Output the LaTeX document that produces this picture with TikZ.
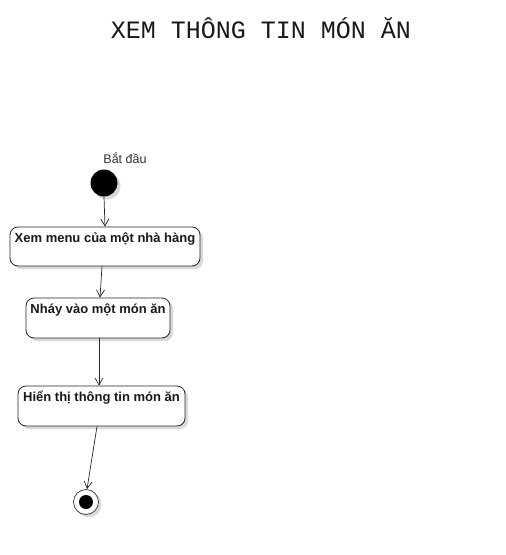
\documentclass[tikz,border=0pt]{standalone}
\usepackage{fontspec}
\setmainfont{Liberation Sans}
\newfontfamily\titlefont{Liberation Mono}
\usetikzlibrary{arrows.meta,shadows}
\begin{document}
\begin{tikzpicture}[x=1pt,y=-1pt,
  actbox/.style={draw=black!85, line width=0.8pt, rounded corners=8pt, fill=white,
    drop shadow={shadow xshift=3pt, shadow yshift=-3pt, fill=black!15, opacity=1}},
  acttext/.style={font=\fontsize{13}{15}\selectfont\bfseries, text=black!90, inner sep=0pt, anchor=north},
  flow/.style={draw=black!85, line width=0.7pt, -{Straight Barb[length=7pt,width=8pt]}}]
\useasboundingbox (0,0) rectangle (506,555);
\node[font=\titlefont\fontsize{25}{29}\selectfont, text=black!90] (title) at (261,28) {XEM THÔNG TIN MÓN ĂN};
\node[font=\fontsize{12.5}{14}\selectfont, text=black!80] (startlbl) at (125,158) {Bắt đầu};
\node[circle, fill=black, minimum size=27pt, inner sep=0pt,
  drop shadow={shadow xshift=3pt, shadow yshift=-3pt, fill=black!15, opacity=1}] (start) at (104,183) {};
\node[actbox, minimum width=190pt, minimum height=39pt, inner sep=0pt] (b1) at (105,246.5) {};
\node[acttext] (t1) at ([yshift=-5.5pt]b1.north) {Xem menu của một nhà hàng};
\node[actbox, minimum width=144pt, minimum height=40pt, inner sep=0pt] (b2) at (98,318) {};
\node[acttext] (t2) at ([yshift=-5.5pt]b2.north) {Nháy vào một món ăn};
\node[actbox, minimum width=167pt, minimum height=40pt, inner sep=0pt] (b3) at (101.5,406) {};
\node[acttext] (t3) at ([yshift=-5.5pt]b3.north) {Hiển thị thông tin món ăn};
\node[circle, draw=black!80, line width=0.7pt, fill=white, minimum size=25pt, inner sep=0pt,
  drop shadow={shadow xshift=3pt, shadow yshift=-3pt, fill=black!15, opacity=1}] (end) at (86,502) {};
\node[circle, fill=black, minimum size=14pt, inner sep=0pt] (endin) at (end.center) {};
\draw[flow] (start.south) -- (b1.north);
\draw[flow] ([xshift=-3pt]b1.south) -- ([xshift=2pt]b2.north);
\draw[flow] ([xshift=1pt]b2.south) -- ([xshift=-2.5pt]b3.north);
\draw[flow] ([xshift=-4.5pt]b3.south) -- ([xshift=1pt]end.north);
\end{tikzpicture}
\end{document}
